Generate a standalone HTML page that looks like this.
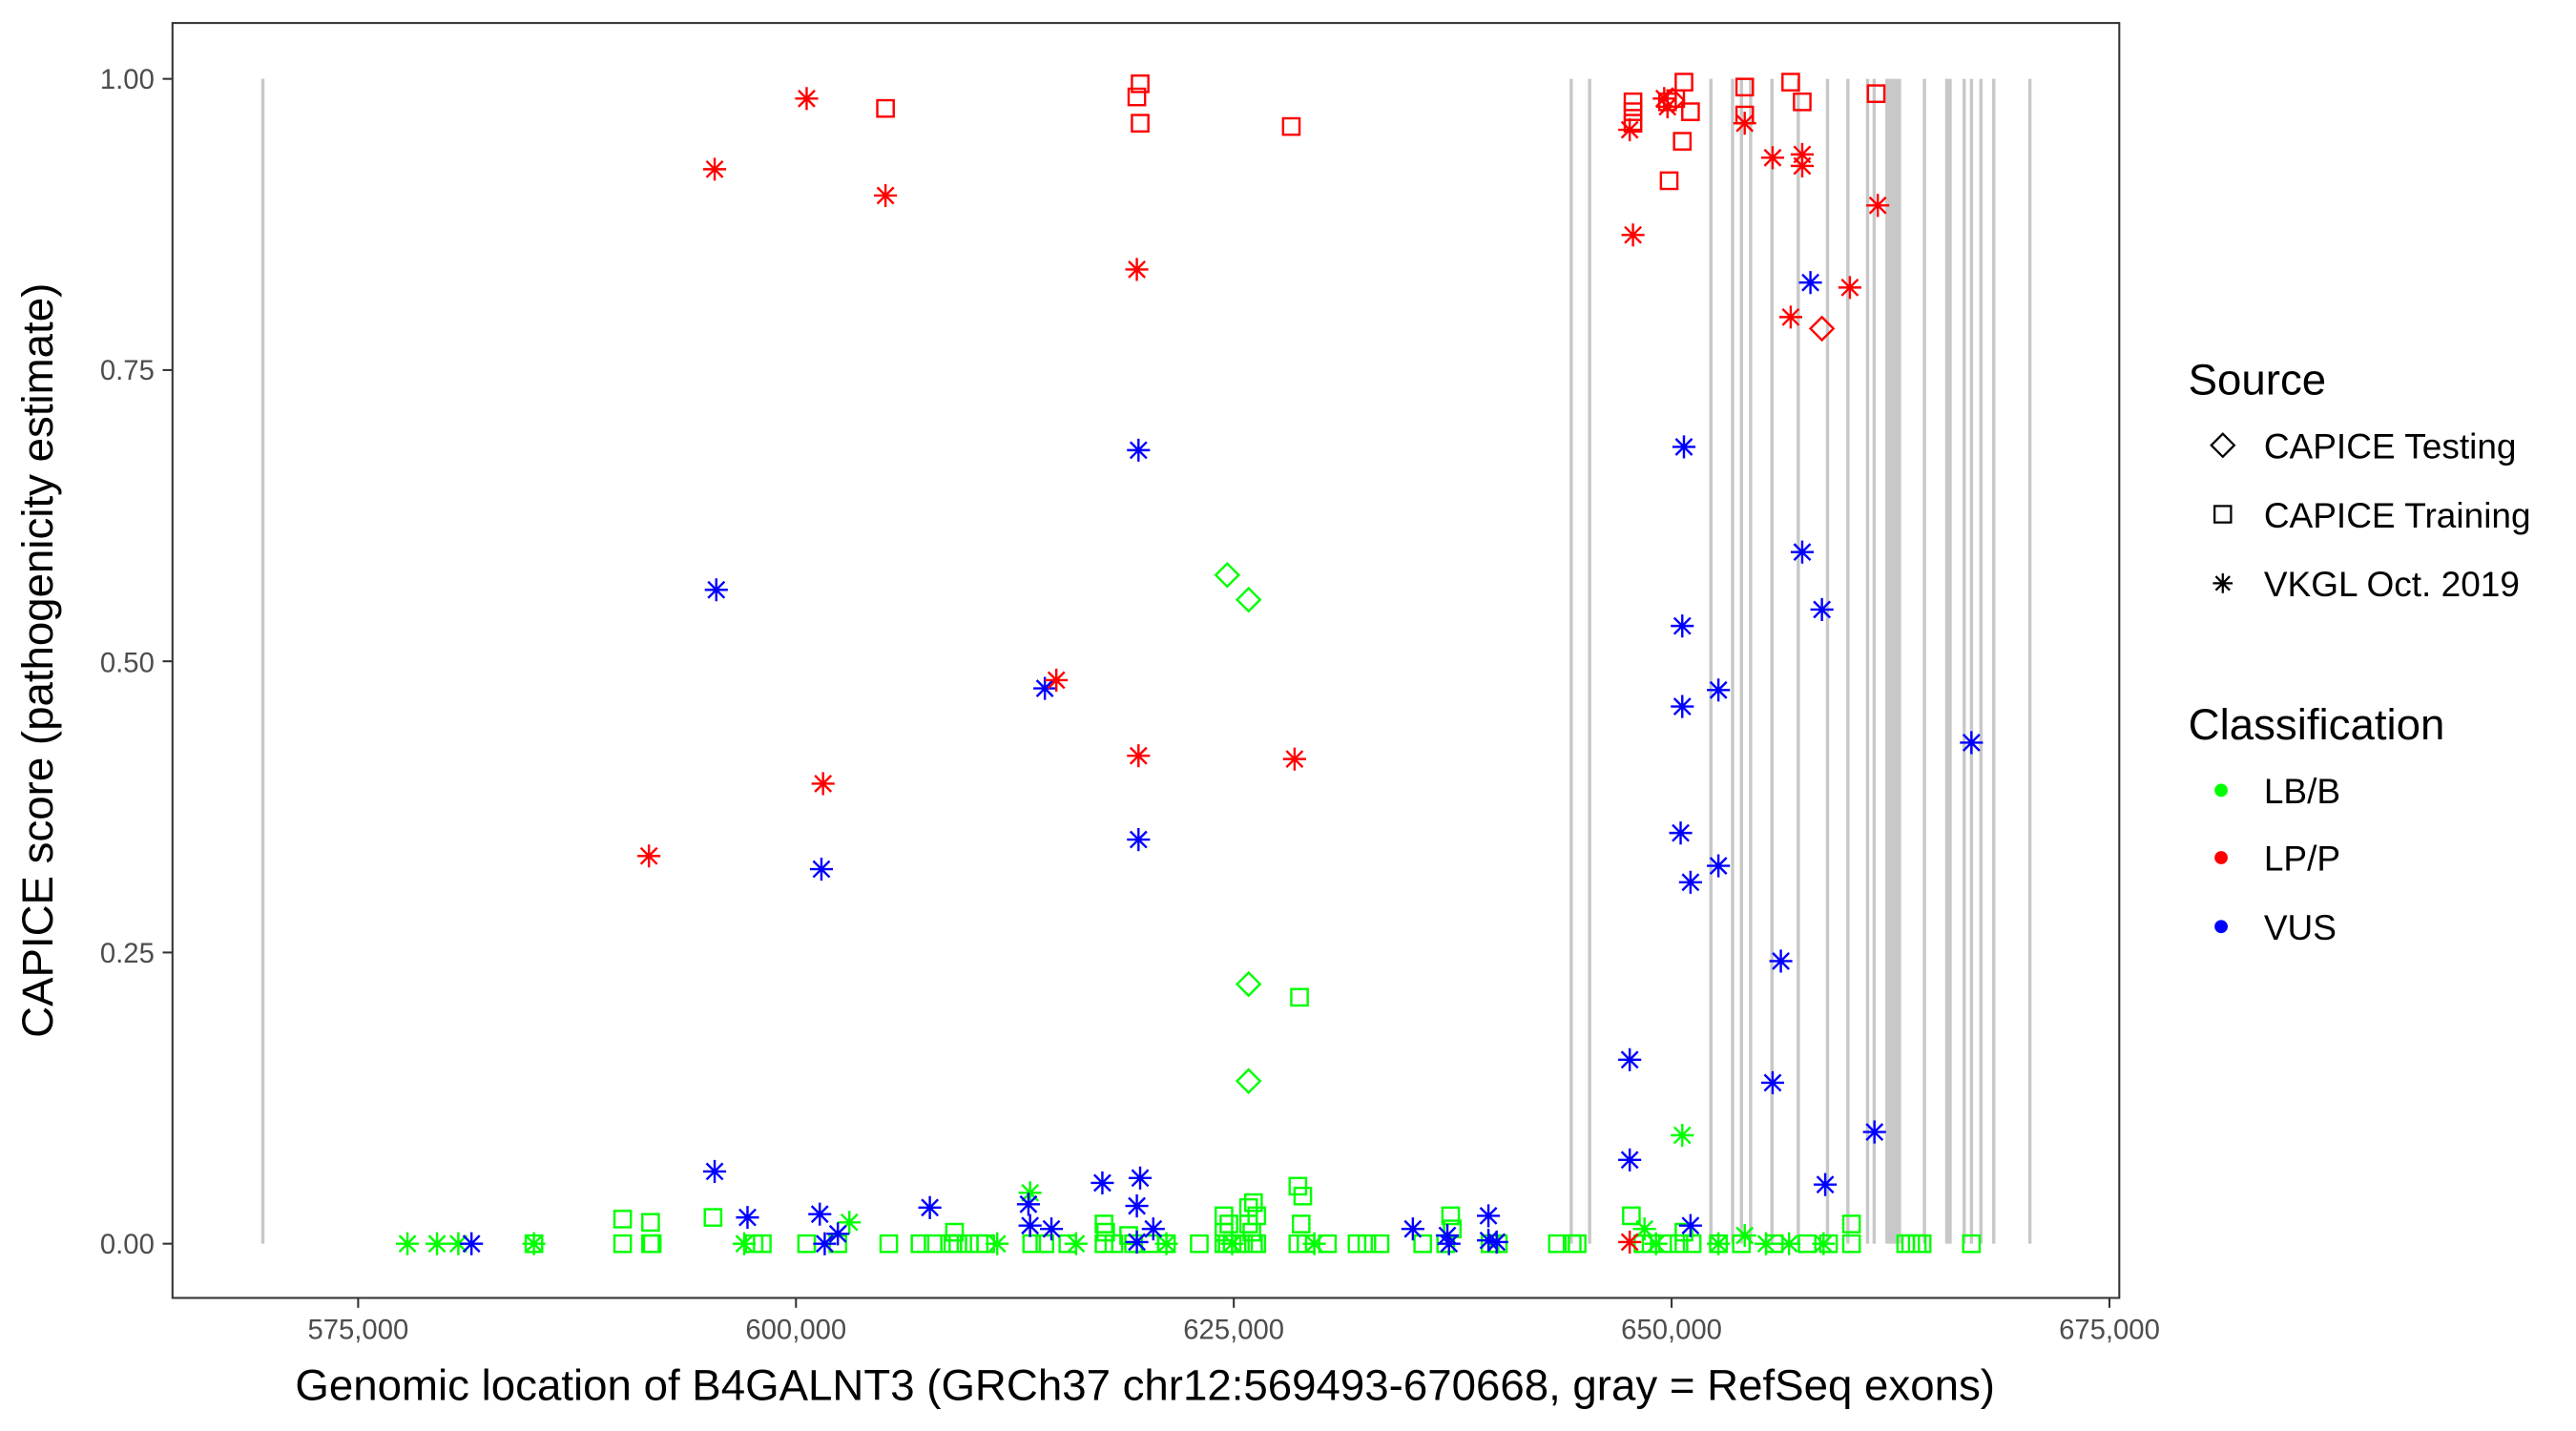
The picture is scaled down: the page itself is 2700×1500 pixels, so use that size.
<!DOCTYPE html>
<html><head><meta charset="utf-8"><style>html,body{margin:0;padding:0;background:#fff}svg{display:block}</style></head>
<body>
<svg id="s" xmlns="http://www.w3.org/2000/svg" width="2700" height="1500" viewBox="0 0 1568 871" preserveAspectRatio="none" font-family="Liberation Sans, Arial, sans-serif">
<rect x="0" y="0" width="1568" height="871" fill="#fff"/>
<g id="exons" stroke="#c8c8c8" stroke-width="2"></g>
<g id="pts" fill="none" stroke-width="1.4"></g>
<rect x="105" y="14" width="1185" height="776" fill="none" stroke="#333" stroke-width="1.2"/>
<g stroke="#333" stroke-width="1.2">
<line x1="99" y1="48" x2="105" y2="48"/><line x1="99" y1="225.25" x2="105" y2="225.25"/><line x1="99" y1="402.5" x2="105" y2="402.5"/><line x1="99" y1="579.75" x2="105" y2="579.75"/><line x1="99" y1="757" x2="105" y2="757"/>
<line x1="218" y1="790" x2="218" y2="796"/><line x1="484.5" y1="790" x2="484.5" y2="796"/><line x1="751" y1="790" x2="751" y2="796"/><line x1="1017.5" y1="790" x2="1017.5" y2="796"/><line x1="1284" y1="790" x2="1284" y2="796"/>
</g>
<g fill="#4d4d4d" font-size="17" text-anchor="end">
<text x="94" y="54">1.00</text><text x="94" y="231">0.75</text><text x="94" y="409">0.50</text><text x="94" y="586">0.25</text><text x="94" y="763">0.00</text>
</g>
<g fill="#4d4d4d" font-size="17" text-anchor="middle">
<text x="218" y="815">575,000</text><text x="484.5" y="815">600,000</text><text x="751" y="815">625,000</text><text x="1017.5" y="815">650,000</text><text x="1284" y="815">675,000</text>
</g>
<text x="697" y="852" font-size="26.5" text-anchor="middle" fill="#000">Genomic location of B4GALNT3 (GRCh37 chr12:569493-670668, gray = RefSeq exons)</text>
<text transform="translate(32,402) rotate(-90)" font-size="26.5" text-anchor="middle" fill="#000">CAPICE score (pathogenicity estimate)</text>
<text x="1332" y="240" font-size="26.5" fill="#000">Source</text>
<text x="1378" y="279" font-size="21.5" fill="#000">CAPICE Testing</text>
<text x="1378" y="321" font-size="21.5" fill="#000">CAPICE Training</text>
<text x="1378" y="363" font-size="21.5" fill="#000">VKGL Oct. 2019</text>
<text x="1332" y="450" font-size="26.5" fill="#000">Classification</text>
<text x="1378" y="489" font-size="21.5" fill="#000">LB/B</text>
<text x="1378" y="530" font-size="21.5" fill="#000">LP/P</text>
<text x="1378" y="572" font-size="21.5" fill="#000">VUS</text>
<circle cx="1352" cy="481" r="4" fill="#00ff00"/>
<circle cx="1352" cy="522" r="4" fill="#ff0000"/>
<circle cx="1352" cy="564" r="4" fill="#0000ff"/>
<g id="leg" fill="none" stroke="#000" stroke-width="1.3"></g>
</svg>
<script>
var NS="http://www.w3.org/2000/svg";
function el(p,t,a){var e=document.createElementNS(NS,t);for(var k in a)e.setAttribute(k,a[k]);p.appendChild(e);return e;}
var ex=document.getElementById('exons');
[160,956.4,967.6,1041.4,1054.6,1060,1065.6,1078.6,1094.6,1112.4,1124.8,1136.8,1140.8,1171.4,1195.6,1200,1205.8,1213.6,1235.6].forEach(function(x){el(ex,'line',{x1:x,y1:48,x2:x,y2:757});});
el(ex,'rect',{x:1147.6,y:48,width:9.6,height:709,fill:'#c8c8c8',stroke:'none'});
el(ex,'rect',{x:1184,y:48,width:4,height:709,fill:'#c8c8c8',stroke:'none'});
var pg=document.getElementById('pts');
function ast(g,x,y,c,r){r=r||7;var d=r*0.71;
el(g,'path',{d:'M'+(x-r)+' '+y+'H'+(x+r)+'M'+x+' '+(y-r)+'V'+(y+r)+'M'+(x-d)+' '+(y-d)+'L'+(x+d)+' '+(y+d)+'M'+(x-d)+' '+(y+d)+'L'+(x+d)+' '+(y-d),stroke:c});}
function sq(g,x,y,c){el(g,'rect',{x:x-5,y:y-5,width:10,height:10,stroke:c});}
function dm(g,x,y,c){el(g,'path',{d:'M'+x+' '+(y-7)+'L'+(x+7)+' '+y+'L'+x+' '+(y+7)+'L'+(x-7)+' '+y+'Z',stroke:c});}
var G='#00ff00',R='#ff0000',B='#0000ff';
[325,379,396,397,459,464,491,510,541,560,568,578,580,583,590,596,600,628,636,650,672,678,690,700,710,730,745,747,750,757,763,765,790,795,808,826,832,840,866,880,907,912,948,957,960,1000,1005,1015,1022,1030,1046,1060,1080,1100,1113,1127,1160,1163,1167,1170,1200].forEach(function(x){sq(pg,x,757,G);});
[[379,742],[396,744],[434,741],[673,750],[687,752],[760,735],[790,722],[793,728],[763,732],[993,740],[1127,745],[883,740],[884,748],[745,740],[748,745],[760,745],[765,740],[792,745],[672,745],[791,607],[745,750],[762,750],[1025,750],[581,750]].forEach(function(p){sq(pg,p[0],p[1],G);});
[[248,757],[266,757],[279,757],[325,757],[453,757],[517,744],[627,726],[1024,691],[607,757],[655,757],[1001,748],[1062,752],[1089,757],[1110,757],[750,757],[800,757],[1046,757],[1008,757],[710,757],[1075,757]].forEach(function(p){ast(pg,p[0],p[1],G);});
[[747,350],[760,365],[760,599],[760,658]].forEach(function(p){dm(pg,p[0],p[1],G);});
[[436,359],[693,274],[636,419],[500,529],[693,511],[1025,272],[1097,336],[1109,371],[1024,381],[1046,420],[1024,430],[1023,507],[1046,527],[1029,537],[1084,585],[1102,172],[1200,452],[992,645],[1079,659],[1141,689],[992,706],[1111,721],[435,713],[455,741],[499,739],[566,735],[626,733],[627,746],[671,720],[694,717],[692,734],[702,748],[692,756],[510,751],[287,757],[640,748],[860,748],[881,752],[906,740],[906,755],[911,756],[1029,746],[882,757],[502,757]].forEach(function(p){ast(pg,p[0],p[1],B);});
[[435,103],[491,60],[539,119],[692,164],[643,414],[501,477],[395,521],[693,460],[788,462],[992,79],[994,143],[1015,65],[1013,60],[1062,75],[1079,96],[1097,94],[1097,101],[1143,125],[1090,193],[1126,175],[992,756]].forEach(function(p){ast(pg,p[0],p[1],R);});
[[539,66],[694,51],[692,59],[694,75],[786,77],[994,62],[994,68],[994,75],[1025,50],[1029,68],[1016,110],[1024,86],[1062,53],[1062,70],[1090,50],[1097,62],[1142,57],[1020,60],[1015,62]].forEach(function(p){sq(pg,p[0],p[1],R);});
[[1109,200],[1018,61]].forEach(function(p){dm(pg,p[0],p[1],R);});
var lg=document.getElementById('leg');
dm(lg,1353,271,'#000');sq(lg,1353,313,'#000');ast(lg,1353,355,'#000',6);
</script>
</body></html>
